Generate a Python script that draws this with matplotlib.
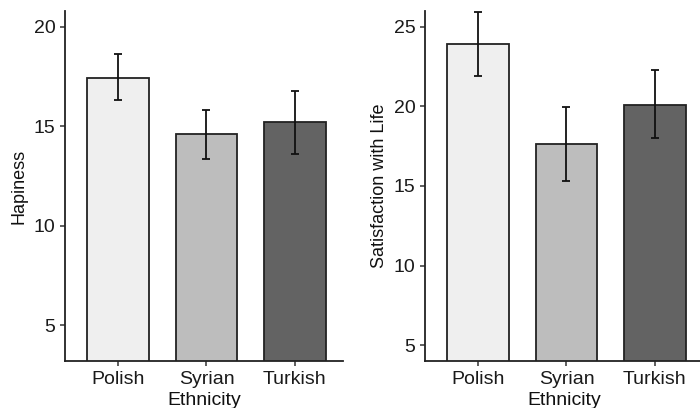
import matplotlib
matplotlib.use("Agg")
import matplotlib.pyplot as plt
import numpy as np

plt.rcParams['font.family'] = ['Liberation Sans', 'DejaVu Sans']

categories = ["Polish", "Syrian", "Turkish"]
colors = ["#efefef", "#bdbdbd", "#636363"]

happy_mean = [17.44, 14.58, 15.20]
happy_lo = [16.32, 13.36, 13.62]
happy_hi = [18.61, 15.80, 16.77]

swl_mean = [23.93, 17.63, 20.10]
swl_lo = [21.92, 15.31, 18.03]
swl_hi = [25.96, 19.98, 22.28]

W, H = 700, 408
fig = plt.figure(figsize=(7, 4.08), dpi=100)

def panel(left_px, means, lo, hi, ylim, yticks, ylabel):
    x0, x1 = 0.4, 3.55
    px_per_unit = 88.4
    width_px = (x1 - x0) * px_per_unit
    top_px, bot_px = 11, 361
    ax = fig.add_axes([left_px / W, (H - bot_px) / H, width_px / W, (bot_px - top_px) / H])
    x = np.arange(1, len(categories) + 1)
    ax.bar(x, means, width=0.7, color=colors, edgecolor="#222222", linewidth=1.3, zorder=2)
    yerr = [np.array(means) - np.array(lo), np.array(hi) - np.array(means)]
    ax.errorbar(x, means, yerr=yerr, fmt="none", ecolor="#111111", elinewidth=1.3,
                capsize=2.9, capthick=1.3, zorder=3)
    ax.set_xlim(x0, x1)
    ax.set_ylim(*ylim)
    ax.set_yticks(yticks)
    ax.set_xticks(x)
    ax.set_xticklabels(categories)
    for s in ["top", "right"]:
        ax.spines[s].set_visible(False)
    for s in ["left", "bottom"]:
        ax.spines[s].set_linewidth(1.3)
        ax.spines[s].set_color("#222222")
    ax.tick_params(axis="both", length=3.5, width=1.1, color="#333333",
                   labelsize=14, labelcolor="#1a1a1a", pad=3.4)
    ax.set_ylabel(ylabel, fontsize=13, color="#111111")
    ax.yaxis.set_label_coords(-0.133, 0.5)
    ax.set_xlabel("Ethnicity", fontsize=14, color="#111111", va="top")
    ax.xaxis.set_label_coords(0.5, -0.088)
    ax.patch.set_alpha(0)
    return ax

panel(65, happy_mean, happy_lo, happy_hi, (3.19, 20.79), [5, 10, 15, 20], "Hapiness")
panel(425, swl_mean, swl_lo, swl_hi, (4.0, 26.0), [5, 10, 15, 20, 25], "Satisfaction with Life")

fig.savefig("out.png", dpi=100)
